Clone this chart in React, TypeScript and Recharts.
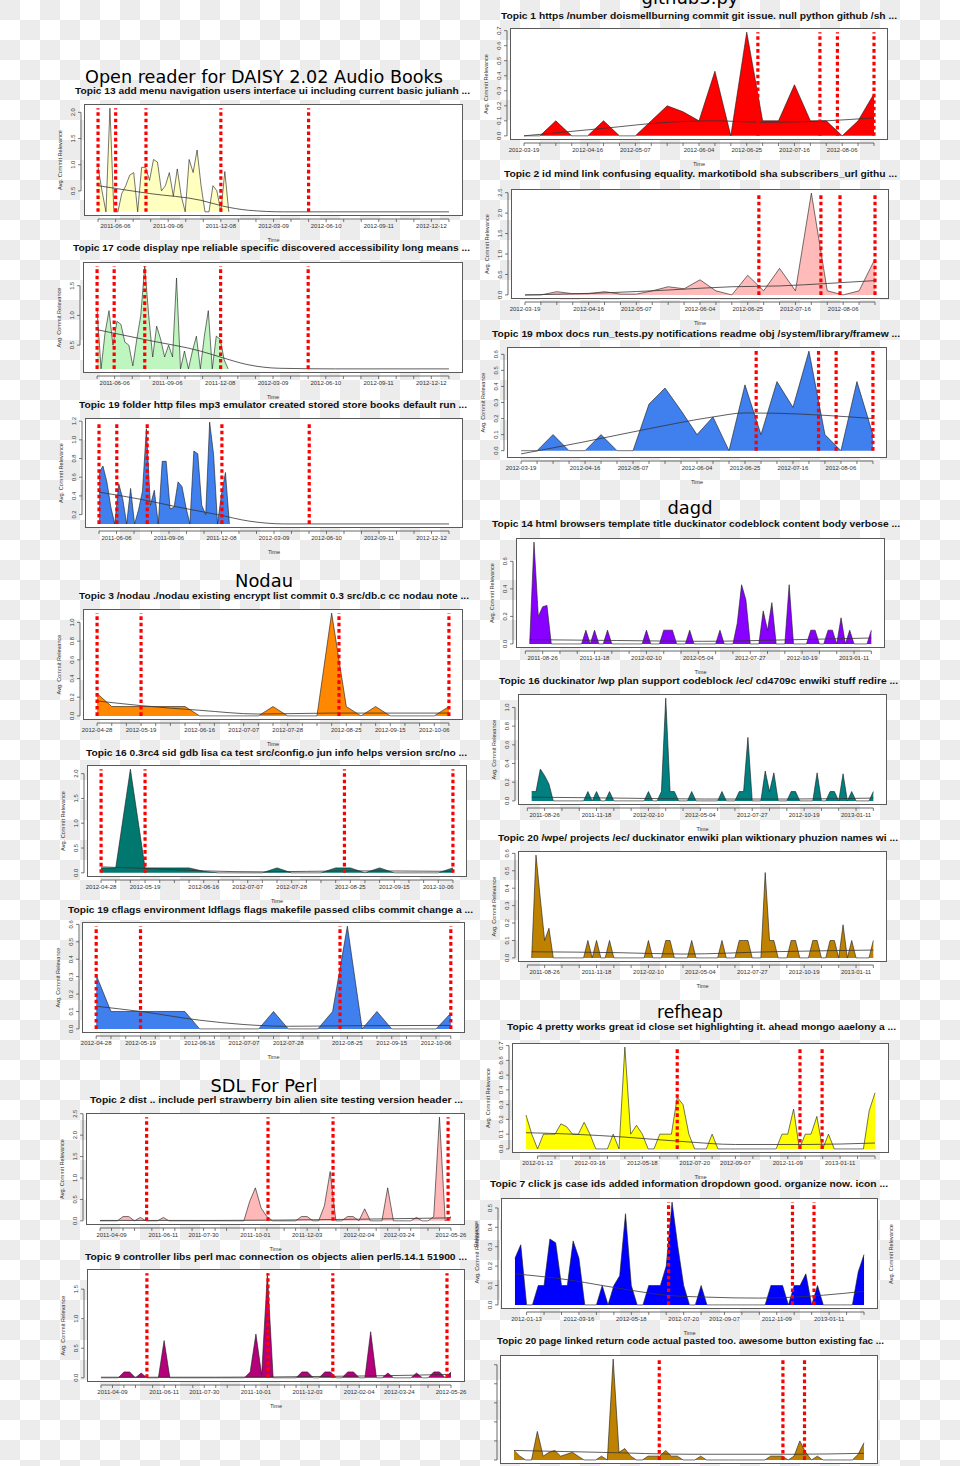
import React from 'react';
import { ComposedChart, Area, Line, XAxis, YAxis, ReferenceLine } from 'recharts';

// x positions are week indexes counted from the first data point of each project

// ---------- axis ticks ----------
const daisyTicks = [0, 4.43, 8.86, 13.29, 17.71, 22.14, 26.57, 31, 35.43, 39.86, 44.29, 48.71, 53.14, 57.57, 62, 66.43, 70.86, 75.29, 79.71, 84.14, 88.57];
const daisyLabels = ['', '2011-06-06', '', '', '2011-09-06', '', '', '2011-12-08', '', '', '2012-03-09', '', '', '2012-06-10', '', '', '2012-09-11', '', '', '2012-12-12', ''];

const nodauTicks = [0, 1, 2, 3, 4, 5, 6, 7, 8, 9, 10, 11, 12, 13, 14, 15, 16, 17, 18, 19, 20, 21, 22, 23, 24];
const nodauLabels = ['2012-04-28', '', '', '2012-05-19', '', '', '', '2012-06-16', '', '', '2012-07-07', '', '', '2012-07-28', '', '', '', '2012-08-25', '', '', '2012-09-15', '', '', '2012-10-06', ''];

const sdlTicks = [0, 2, 4, 6, 9, 11, 13, 16, 18, 20, 22, 25, 27, 29, 32, 34, 36, 38, 41, 43, 45, 48, 50, 52, 54, 57, 59, 61];
const sdlLabels = ['', '2011-04-09', '', '', '', '2011-06-11', '', '', '2011-07-30', '', '', '', '2011-10-01', '', '', '', '2011-12-03', '', '', '', '2012-02-04', '', '', '2012-03-24', '', '', '', '2012-05-26'];

const githubTicks = [0, 1, 2, 3, 4, 5, 6, 7, 8, 9, 10, 11, 12, 13, 14, 15, 16, 17, 18, 19, 20, 21, 22];
const githubLabels = ['2012-03-19', '', '', '', '2012-04-16', '', '', '2012-05-07', '', '', '', '2012-06-04', '', '', '2012-06-25', '', '', '2012-07-16', '', '', '2012-08-06', '', ''];

const dagdTicks = [-1, 3, 7, 11, 15, 19, 23, 27, 31, 35, 39, 43, 47, 51, 55, 59, 63, 67, 71, 75, 79];
const dagdLabels = ['', '2011-08-26', '', '', '2011-11-18', '', '', '2012-02-10', '', '', '2012-05-04', '', '', '2012-07-27', '', '', '2012-10-19', '', '', '2013-01-11', ''];

const refheapTicks = [2, 5, 8, 11, 14, 17, 20, 23, 26, 29, 32, 36, 39, 42, 45, 48, 51, 54, 57, 60];
const refheapLabels = ['2012-01-13', '', '', '2012-03-16', '', '', '2012-05-18', '', '', '2012-07-20', '', '2012-09-07', '', '', '2012-11-09', '', '', '2013-01-11', '', ''];

// ---------- Open reader for DAISY 2.02 Audio Books ----------
const daisyT13 = [0.95, 0.5, 0.1, 2.08, 0.1, 0.1, 0.45, 0.6, 0.8, 0.85, 0.1, 0.95, 0.95, 0.7, 1.1, 1.05, 0.5, 0.6, 0.85, 0.4, 0.92, 0.4, 0.1, 1.1, 0.85, 1.28, 0.6, 0.1, 0.1, 0.6, 0.5, 0.1, 0.87, 0.1];
const daisyT13TrendX = [0, 13, 26, 31.5, 38, 47, 60, 88.57];
const daisyT13TrendY = [0.6, 0.45, 0.32, 0.21, 0.13, 0.1, 0.1, 0.1];
const daisyT13Events = [0, 4.45, 12.1, 31, 53.14];

const daisyT17 = [1.1, 0.1, 0.7, 1.08, 0.5, 0.9, 0.85, 0.55, 0.5, 0.15, 0.6, 1.0, 1.83, 1.0, 0.3, 0.82, 0.6, 0.3, 0.5, 0.3, 1.63, 0.1, 0.4, 0.1, 0.4, 0.65, 0.1, 0.65, 1.08, 0.1, 0.65, 0.6, 0.25, 0.1];
const daisyT17TrendX = [0, 13, 26, 31, 38, 46, 60, 88.57];
const daisyT17TrendY = [0.76, 0.58, 0.4, 0.3, 0.17, 0.11, 0.1, 0.1];
const daisyT17Events = [0, 4.3, 12, 31.1, 53.14];

const daisyT19 = [0.65, 0.72, 0.55, 0.28, 0.1, 0.53, 0.37, 0.1, 0.48, 0.1, 0.25, 0.45, 1.12, 0.3, 0.46, 0.1, 0.77, 0.77, 0.26, 0.28, 0.55, 0.5, 0.28, 0.1, 0.88, 0.85, 0.3, 0.2, 1.19, 0.84, 0.1, 0.42, 0.65, 0.1];
const daisyT19TrendX = [0, 11, 20, 30, 38, 47, 60, 88.57];
const daisyT19TrendY = [0.44, 0.36, 0.28, 0.2, 0.13, 0.1, 0.1, 0.1];
const daisyT19Events = [0, 4.5, 12.2, 31.1, 53.2];

// ---------- Nodau ----------
const nodauT3 = [0.24, 0.1, 0.1, 0.1, 0.1, 0.1, 0.1, 0, 0, 0, 0, 0, 0.1, 0, 0, 0, 1.1, 0.1, 0, 0.1, 0, 0, 0, 0, 0.1];
const nodauT3TrendX = [0, 3, 7, 11, 16, 24];
const nodauT3TrendY = [0.16, 0.11, 0.06, 0.02, 0.03, 0.03];
const nodauT3Events = [0, 3, 16.5, 24];

const nodauT16 = [0.1, 0.1, 2.09, 0.1, 0.1, 0.1, 0.1, 0.03, 0, 0, 0, 0, 0.1, 0, 0, 0, 0.1, 0.1, 0, 0.1, 0, 0, 0, 0, 0.1];
const nodauT16TrendX = [0, 3, 7, 11, 17, 24];
const nodauT16TrendY = [0.12, 0.09, 0.04, 0.02, 0.04, 0.03];
const nodauT16Events = [0, 3, 16.6, 24];

const nodauT19 = [0.31, 0.1, 0.1, 0.1, 0.1, 0.1, 0.1, 0, 0, 0, 0, 0, 0.1, 0, 0, 0, 0.1, 0.59, 0, 0.1, 0, 0, 0, 0, 0.09];
const nodauT19TrendX = [0, 3, 7, 10, 13, 17, 24];
const nodauT19TrendY = [0.13, 0.1, 0.05, 0.025, 0.015, 0.018, 0.02];
const nodauT19Events = [0, 3, 16.5, 24];

// ---------- SDL For Perl ----------
const sdlT2 = [0, 0, 0, 0, 0.1, 0.1, 0, 0.08, 0, 0, 0, 0.08, 0, 0, 0, 0, 0, 0, 0, 0, 0, 0, 0, 0, 0, 0, 0.45, 0.77, 0.3, 0.1, 0, 0, 0, 0, 0, 0.1, 0.1, 0, 0, 0.35, 1.15, 0, 0, 0.1, 0.1, 0, 0.28, 0, 0, 0, 0.77, 0, 0, 0, 0, 0.08, 0, 0, 0.1, 2.42, 0, 0.1];
const sdlT2TrendX = [0, 20, 40, 61];
const sdlT2TrendY = [0.01, 0.01, 0.03, 0.07];
const sdlT2Events = [8.1, 29.2, 40.5, 60.5];

const sdlT9 = [0, 0, 0, 0, 0.1, 0.1, 0, 0.08, 0, 0, 0, 0.63, 0, 0, 0, 0, 0, 0, 0, 0, 0, 0, 0, 0, 0, 0, 0.1, 0.74, 0.05, 1.77, 0, 0, 0, 0, 0, 0.1, 0.1, 0, 0, 0.1, 0.1, 0, 0, 0.1, 0.1, 0, 0, 0.78, 0, 0, 0.08, 0, 0, 0, 0, 0.08, 0, 0, 0.1, 0.1, 0, 0.1];
const sdlT9TrendX = [0, 20, 40, 55, 61];
const sdlT9TrendY = [0.01, 0.01, 0.025, 0.045, 0.06];
const sdlT9Events = [8, 29.1, 40.4, 60.3];

// ---------- github3.py ----------
const githubT1 = [0, 0, 0.1, 0, 0, 0.1, 0, 0, 0.1, 0.2, 0.16, 0.1, 0.43, 0, 0.69, 0.1, 0.1, 0.34, 0.1, 0.1, 0, 0.1, 0.28];
const githubT1TrendX = [0, 5, 9, 12, 15, 19, 22];
const githubT1TrendY = [0, 0.05, 0.09, 0.1, 0.09, 0.1, 0.12];
const githubT1Events = [14.7, 18.6, 19.7, 22];

const githubT2 = [0, 0, 0.08, 0.03, 0.03, 0.08, 0.02, 0.02, 0.1, 0.2, 0.15, 0.37, 0.1, 0, 0.48, 0.1, 0.65, 0.1, 2.49, 0.1, 0, 0.1, 0.88];
const githubT2TrendX = [0, 5, 9, 13, 16, 19, 22];
const githubT2TrendY = [0, 0.05, 0.12, 0.2, 0.22, 0.28, 0.35];
const githubT2Events = [14.7, 18.6, 19.8, 22];

const githubT19 = [0, 0, 0.1, 0, 0, 0.1, 0, 0, 0.29, 0.39, 0.25, 0.1, 0.21, 0, 0.41, 0.1, 0.43, 0.27, 0.62, 0.1, 0, 0.43, 0.1];
const githubT19TrendX = [0, 4, 8, 12, 14, 16, 19, 22];
const githubT19TrendY = [-0.02, 0.056, 0.137, 0.21, 0.235, 0.233, 0.22, 0.2];
const githubT19Events = [14.7, 18.6, 19.7, 22];

// ---------- dagd ----------
const dagdT14 = [0, 0.74, 0.2, 0.27, 0.28, 0, 0, 0, 0, 0, 0, 0, 0, 0.1, 0, 0.1, 0, 0, 0.1, 0, 0, 0, 0, 0, 0, 0, 0, 0.1, 0, 0, 0, 0.1, 0.1, 0.1, 0, 0, 0, 0.1, 0, 0, 0, 0, 0, 0, 0.1, 0, 0, 0, 0.15, 0.43, 0.32, 0, 0, 0, 0.24, 0.1, 0.3, 0, 0, 0, 0.43, 0, 0, 0, 0, 0.1, 0.1, 0, 0, 0.1, 0.1, 0, 0.19, 0, 0.1, 0, 0, 0, 0, 0.1];
const dagdT14TrendX = [0, 20, 40, 60, 79];
const dagdT14TrendY = [0.031, 0.025, 0.019, 0.03, 0.043];

const dagdT16 = [0.1, 0.1, 0.34, 0.27, 0.18, 0, 0, 0, 0, 0, 0, 0, 0, 0.1, 0, 0.1, 0, 0, 0.1, 0, 0, 0, 0, 0, 0, 0, 0, 0.1, 0, 0, 0.1, 1.1, 0.1, 0.1, 0, 0, 0, 0.1, 0, 0, 0, 0, 0, 0, 0.1, 0, 0, 0, 0.1, 0.1, 0.68, 0, 0, 0, 0.32, 0.1, 0.3, 0, 0, 0, 0.1, 0.1, 0, 0, 0, 0, 0.3, 0, 0, 0.1, 0.1, 0, 0.29, 0, 0.1, 0, 0, 0, 0, 0.1];
const dagdT16TrendX = [0, 20, 40, 60, 79];
const dagdT16TrendY = [0.04, 0.03, 0.02, 0.02, 0.03];

const dagdT20 = [0, 0.59, 0.34, 0.1, 0.17, 0, 0, 0, 0, 0, 0, 0, 0, 0.1, 0, 0.1, 0, 0, 0.1, 0, 0, 0, 0, 0, 0, 0, 0, 0.1, 0, 0, 0, 0.1, 0.1, 0, 0, 0, 0, 0.1, 0, 0, 0, 0, 0, 0, 0.1, 0, 0, 0, 0.1, 0.1, 0.1, 0, 0, 0, 0.49, 0.1, 0.1, 0, 0, 0, 0.1, 0.1, 0, 0, 0, 0.1, 0.1, 0, 0, 0.1, 0.1, 0, 0.19, 0, 0.1, 0, 0, 0, 0, 0.1];
const dagdT20TrendX = [0, 20, 35, 55, 79];
const dagdT20TrendY = [0.035, 0.03, 0.022, 0.035, 0.045];

// ---------- refheap ----------
const refheapT4 = [0.23, 0.1, 0, 0.1, 0.1, 0.1, 0.17, 0.15, 0.1, 0.1, 0.18, 0.1, 0, 0, 0, 0.1, 0, 0.69, 0.1, 0.16, 0.1, 0, 0, 0.1, 0.1, 0.1, 0.35, 0.3, 0.1, 0, 0, 0, 0.1, 0, 0, 0, 0, 0, 0, 0, 0, 0, 0, 0, 0.1, 0.1, 0.27, 0, 0.1, 0.1, 0.22, 0, 0.1, 0, 0, 0, 0, 0, 0, 0.26, 0.38];
const refheapT4TrendX = [0, 8, 17, 27, 36, 48, 60];
const refheapT4TrendY = [0.11, 0.1, 0.08, 0.05, 0.03, 0.03, 0.04];
const refheapT4Events = [26, 47.1, 50.9];

const refheapT7 = [0.24, 0.31, 0, 0, 0.1, 0.1, 0.34, 0.32, 0.1, 0.1, 0.33, 0.24, 0, 0, 0, 0.1, 0, 0.1, 0.15, 0.47, 0.1, 0, 0, 0.1, 0.1, 0.1, 0.2, 0.53, 0.3, 0.1, 0, 0, 0.1, 0, 0, 0, 0, 0, 0, 0, 0, 0, 0, 0, 0.1, 0.1, 0.1, 0, 0.1, 0.1, 0.16, 0, 0.1, 0, 0, 0, 0, 0, 0, 0.17, 0.26];
const refheapT7TrendX = [0, 9, 15, 20, 26, 33, 42, 48, 53, 60];
const refheapT7TrendY = [0.16, 0.13, 0.1, 0.075, 0.05, 0.04, 0.035, 0.04, 0.05, 0.07];
const refheapT7Events = [26.4, 47.7, 51.4];

const refheapT20 = [0.05, 0.02, 0, 0, 0.15, 0.02, 0.04, 0.05, 0.02, 0.03, 0.04, 0.02, 0, 0, 0, 0.02, 0, 0.53, 0.04, 0.06, 0.02, 0, 0, 0.02, 0.02, 0.02, 0.05, 0.02, 0.02, 0, 0, 0, 0.02, 0, 0, 0, 0, 0, 0, 0, 0, 0, 0, 0, 0.02, 0.02, 0.02, 0, 0.02, 0.1, 0.04, 0, 0.02, 0, 0, 0, 0, 0, 0, 0.03, 0.09];
const refheapT20TrendX = [0, 15, 30, 48, 60];
const refheapT20TrendY = [0.05, 0.04, 0.03, 0.03, 0.035];
const refheapT20Events = [24.9, 46.1, 49.8];

// ---------- y ticks ----------
const yT13 = [0.5, 1, 1.5, 2];
const yT17 = [0.5, 1, 1.5];
const yT19 = [0.2, 0.4, 0.6, 0.8, 1, 1.2];
const yTenths6 = [0, 0.1, 0.2, 0.3, 0.4, 0.5, 0.6];
const yTenths7 = [0, 0.1, 0.2, 0.3, 0.4, 0.5, 0.6, 0.7];
const yTenths5 = [0, 0.1, 0.2, 0.3, 0.4, 0.5];
const yFifths5 = [0, 0.2, 0.4, 0.6, 0.8, 1];
const yFifths3 = [0, 0.2, 0.4, 0.6];
const yHalves4 = [0, 0.5, 1, 1.5];
const yHalves5 = [0, 0.5, 1, 1.5, 2];
const yHalves6 = [0, 0.5, 1, 1.5, 2, 2.5];

const GAP = 3;
const YW = 24;
const XH = 30;
const MT = 4;
const MR = 4;
const PAGE_H = 1466;
const FONT = '"Liberation Sans", Arial, sans-serif';

type Box = { x: number; y: number; w: number; h: number };
type PanelDef = {
  title: string; color: string; values: number[]; trendX: number[]; trendY: number[]; events: number[];
  xTicks: number[]; xLabels: string[]; yTicks: number[]; cropped?: boolean;
  box: Box; titleY: number; titleX: [number, number];
};

const panels: PanelDef[] = [
  { title: 'Topic 13 add menu navigation users interface ui including current basic julianh ...', color: '#ffffc0', values: daisyT13, trendX: daisyT13TrendX, trendY: daisyT13TrendY, events: daisyT13Events, xTicks: daisyTicks, xLabels: daisyLabels, yTicks: yT13, box: { x: 84, y: 104, w: 379, h: 112 }, titleY: 90, titleX: [75, 470] },
  { title: 'Topic 17 code display npe reliable specific discovered accessibility long means ...', color: '#bff5bf', values: daisyT17, trendX: daisyT17TrendX, trendY: daisyT17TrendY, events: daisyT17Events, xTicks: daisyTicks, xLabels: daisyLabels, yTicks: yT17, box: { x: 83, y: 262, w: 380, h: 111 }, titleY: 247, titleX: [73, 470] },
  { title: 'Topic 19 folder http files mp3 emulator created stored store books default run ...', color: '#3f7fee', values: daisyT19, trendX: daisyT19TrendX, trendY: daisyT19TrendY, events: daisyT19Events, xTicks: daisyTicks, xLabels: daisyLabels, yTicks: yT19, box: { x: 85, y: 418, w: 378, h: 110 }, titleY: 404, titleX: [79, 467] },
  { title: 'Topic 3 /nodau ./nodau existing encrypt list commit 0.3 src/db.c cc nodau note ...', color: '#ff8800', values: nodauT3, trendX: nodauT3TrendX, trendY: nodauT3TrendY, events: nodauT3Events, xTicks: nodauTicks, xLabels: nodauLabels, yTicks: yFifths5, box: { x: 83, y: 609, w: 380, h: 111 }, titleY: 595, titleX: [79, 469] },
  { title: 'Topic 16 0.3rc4 sid gdb lisa ca test src/config.o jun info helps version src/no ...', color: '#00786f', values: nodauT16, trendX: nodauT16TrendX, trendY: nodauT16TrendY, events: nodauT16Events, xTicks: nodauTicks, xLabels: nodauLabels, yTicks: yHalves5, box: { x: 87, y: 765, w: 380, h: 112 }, titleY: 752, titleX: [86, 467] },
  { title: 'Topic 19 cflags environment ldflags flags makefile passed clibs commit change a ...', color: '#3f7fee', values: nodauT19, trendX: nodauT19TrendX, trendY: nodauT19TrendY, events: nodauT19Events, xTicks: nodauTicks, xLabels: nodauLabels, yTicks: yTenths6, box: { x: 82, y: 922, w: 383, h: 111 }, titleY: 909, titleX: [68, 473] },
  { title: 'Topic 2 dist .. include perl strawberry bin alien site testing version header ...', color: '#ffb8b8', values: sdlT2, trendX: sdlT2TrendX, trendY: sdlT2TrendY, events: sdlT2Events, xTicks: sdlTicks, xLabels: sdlLabels, yTicks: yHalves6, box: { x: 86, y: 1113, w: 379, h: 112 }, titleY: 1099, titleX: [90, 463] },
  { title: 'Topic 9 controller libs perl mac connection os objects alien perl5.14.1 51900 ...', color: '#b4007a', values: sdlT9, trendX: sdlT9TrendX, trendY: sdlT9TrendY, events: sdlT9Events, xTicks: sdlTicks, xLabels: sdlLabels, yTicks: yHalves4, box: { x: 87, y: 1269, w: 378, h: 113 }, titleY: 1256, titleX: [85, 467] },
  { title: 'Topic 1 https /number doismellburning commit git issue. null python github /sh ...', color: '#ff0000', values: githubT1, trendX: githubT1TrendX, trendY: githubT1TrendY, events: githubT1Events, xTicks: githubTicks, xLabels: githubLabels, yTicks: yTenths7, box: { x: 510, y: 28, w: 378, h: 112 }, titleY: 15, titleX: [501, 897] },
  { title: 'Topic 2 id mind link confusing equality. markotibold sha subscribers_url githu ...', color: '#ffbaba', values: githubT2, trendX: githubT2TrendX, trendY: githubT2TrendY, events: githubT2Events, xTicks: githubTicks, xLabels: githubLabels, yTicks: yHalves6, box: { x: 511, y: 189, w: 378, h: 110 }, titleY: 173, titleX: [504, 897] },
  { title: 'Topic 19 mbox docs run_tests.py notifications readme obj /system/library/framew ...', color: '#3f7fee', values: githubT19, trendX: githubT19TrendX, trendY: githubT19TrendY, events: githubT19Events, xTicks: githubTicks, xLabels: githubLabels, yTicks: yTenths6, box: { x: 507, y: 347, w: 380, h: 111 }, titleY: 333, titleX: [492, 900] },
  { title: 'Topic 14 html browsers template title duckinator codeblock content body verbose ...', color: '#8800ff', values: dagdT14, trendX: dagdT14TrendX, trendY: dagdT14TrendY, events: [], xTicks: dagdTicks, xLabels: dagdLabels, yTicks: yFifths3, box: { x: 516, y: 538, w: 369, h: 110 }, titleY: 523, titleX: [492, 900] },
  { title: 'Topic 16 duckinator /wp plan support codeblock /ec/ cd4709c enwiki stuff redire ...', color: '#008080', values: dagdT16, trendX: dagdT16TrendX, trendY: dagdT16TrendY, events: [], xTicks: dagdTicks, xLabels: dagdLabels, yTicks: yFifths5, box: { x: 518, y: 694, w: 369, h: 111 }, titleY: 680, titleX: [499, 898] },
  { title: 'Topic 20 /wpe/ projects /ec/ duckinator enwiki plan wiktionary phuzion names wi ...', color: '#bf8200', values: dagdT20, trendX: dagdT20TrendX, trendY: dagdT20TrendY, events: [], xTicks: dagdTicks, xLabels: dagdLabels, yTicks: yTenths6, box: { x: 518, y: 851, w: 369, h: 111 }, titleY: 837, titleX: [498, 898] },
  { title: 'Topic 4 pretty works great id close set highlighting it. ahead mongo aaelony a ...', color: '#ffff00', values: refheapT4, trendX: refheapT4TrendX, trendY: refheapT4TrendY, events: refheapT4Events, xTicks: refheapTicks, xLabels: refheapLabels, yTicks: yTenths7, box: { x: 512, y: 1043, w: 377, h: 110 }, titleY: 1026, titleX: [507, 896] },
  { title: 'Topic 7 click js case ids added information dropdown good. organize now. icon ...', color: '#0000ff', values: refheapT7, trendX: refheapT7TrendX, trendY: refheapT7TrendY, events: refheapT7Events, xTicks: refheapTicks, xLabels: refheapLabels, yTicks: yTenths5, box: { x: 501, y: 1198, w: 377, h: 111 }, titleY: 1183, titleX: [490, 888] },
  { title: 'Topic 20 page linked return code actual pasted too. awesome button existing fac ...', color: '#bf8200', values: refheapT20, trendX: refheapT20TrendX, trendY: refheapT20TrendY, events: refheapT20Events, xTicks: refheapTicks, xLabels: refheapLabels, yTicks: yTenths5, cropped: true, box: { x: 500, y: 1355, w: 378, h: 109 }, titleY: 1340, titleX: [497, 884] },
];

const mainTitles = [
  { text: 'Open reader for DAISY 2.02 Audio Books', x: 264, y: 83, w: 358 },
  { text: 'Nodau', x: 264, y: 587, w: 58 },
  { text: 'SDL For Perl', x: 264, y: 1092, w: 107 },
  { text: 'github3.py', x: 690, y: 4, w: 97 },
  { text: 'dagd', x: 690, y: 514, w: 45 },
  { text: 'refheap', x: 690, y: 1018, w: 66 },
];

function Panel({ p }: { p: PanelDef }) {
  const { box } = p;
  const rows = p.values.map((y, x) => ({ x, y }));
  const trend = p.trendX.map((x, i) => ({ x, y: p.trendY[i] }));
  const all = [...p.values, ...p.trendY];
  const lo = Math.min(...all);
  const hi = Math.max(...all);
  const vLo = Math.min(...p.values);
  const vHi = Math.max(...p.values);
  const x1 = Math.max(p.values.length - 1, ...p.trendX);
  const a = -0.04 * x1;
  const b = x1 * 1.04;
  const c = lo - 0.04 * (hi - lo);
  const d = hi + 0.04 * (hi - lo);
  const xLeft = a - (GAP * (b - a)) / box.w;
  const yBottom = c - (GAP * (d - c)) / box.h;
  const showLabels = !p.cropped;

  const yTick = (t: any) => {
    const tx = t.x - 1;
    return (
      <text x={tx} y={t.y} transform={`rotate(-90 ${tx} ${t.y})`} textAnchor="middle" fontSize={5.8} fill="#333" fontFamily={FONT}>
        {showLabels ? Number(t.payload.value).toFixed(1) : ''}
      </text>
    );
  };

  return (
    <>
      <div style={{ position: 'absolute', left: box.x, top: box.y, width: box.w, height: box.h, background: '#fff', border: '1px solid #5a5a5a', boxSizing: 'border-box' }} />
      <div style={{ position: 'absolute', left: box.x - YW - GAP, top: box.y - MT }}>
        <ComposedChart width={box.w + YW + GAP + MR} height={box.h + GAP + MT + XH} data={rows} margin={{ top: MT, right: MR, left: 0, bottom: 0 }}>
          <XAxis type="number" dataKey="x" domain={[xLeft, b]} allowDataOverflow ticks={p.xTicks} interval={0} height={XH}
            tickFormatter={(v: number) => (showLabels ? p.xLabels[p.xTicks.indexOf(v)] ?? '' : '')} tickSize={3} axisLine={false}
            tickLine={{ stroke: '#444', strokeWidth: 0.7 }} tick={{ fontSize: 6, fill: '#333', fontFamily: FONT }} />
          <YAxis type="number" domain={[yBottom, d]} allowDataOverflow ticks={p.yTicks} interval={0} width={YW}
            tick={yTick} tickSize={3} axisLine={false} tickLine={{ stroke: '#444', strokeWidth: 0.7 }} />
          <Area data={rows} dataKey="y" type="linear" baseValue={vLo} fill={p.color} fillOpacity={1} stroke="#1a1a1a" strokeWidth={0.6} dot={false} activeDot={false} isAnimationActive={false} />
          <Line data={trend} dataKey="y" type="monotone" stroke="#333" strokeWidth={0.8} dot={false} activeDot={false} isAnimationActive={false} />
          {p.events.map((e) => (
            <ReferenceLine key={e} segment={[{ x: e, y: vLo }, { x: e, y: vHi }]} stroke="#ff0000" strokeWidth={3.2} strokeDasharray="3.6 2.8" ifOverflow="visible" />
          ))}
          <ReferenceLine segment={[{ x: xLeft, y: p.yTicks[0] }, { x: xLeft, y: p.yTicks[p.yTicks.length - 1] }]} stroke="#444" strokeWidth={0.8} ifOverflow="visible" />
          <ReferenceLine segment={[{ x: p.xTicks[0], y: yBottom }, { x: p.xTicks[p.xTicks.length - 1], y: yBottom }]} stroke="#444" strokeWidth={0.8} ifOverflow="visible" />
        </ComposedChart>
      </div>
    </>
  );
}

export default function App() {
  return (
    <div style={{ position: 'absolute', left: 0, top: 0, width: 960, height: PAGE_H, overflow: 'hidden', background: 'repeating-conic-gradient(#fff 0% 25%, #ececec 0% 50%) 0 0 / 40px 40px' }}>
      {panels.map((p, i) => <Panel key={i} p={p} />)}
      <svg width={960} height={PAGE_H} style={{ position: 'absolute', left: 0, top: 0, pointerEvents: 'none' }}>
        {mainTitles.map((t) => (
          <text key={t.text} x={t.x} y={t.y} textAnchor="middle" fontSize={17} fontFamily='"DejaVu Sans", sans-serif' fill="#000" textLength={t.w} lengthAdjust="spacingAndGlyphs">{t.text}</text>
        ))}
        {panels.map((p, i) => (
          <g key={i}>
            <text x={(p.titleX[0] + p.titleX[1]) / 2} y={p.titleY + 3.5} textAnchor="middle" fontSize={9.8} fontWeight="bold" fontFamily={FONT} fill="#111" textLength={p.titleX[1] - p.titleX[0]} lengthAdjust="spacingAndGlyphs">{p.title}</text>
            {!p.cropped && (
              <>
                <text x={p.box.x + p.box.w / 2} y={p.box.y + p.box.h + 26} textAnchor="middle" fontSize={5.6} fontFamily={FONT} fill="#333">Time</text>
                <text x={p.box.x - 22} y={p.box.y + p.box.h / 2} transform={`rotate(-90 ${p.box.x - 22} ${p.box.y + p.box.h / 2})`} textAnchor="middle" fontSize={5.6} fontFamily={FONT} fill="#333">Avg. Commit Relevance</text>
              </>
            )}
          </g>
        ))}
        <text x={893} y={1254} transform="rotate(-90 893 1254)" textAnchor="middle" fontSize={5.6} fontFamily={FONT} fill="#333">Avg. Commit Relevance</text>
        <text x={478} y={1234} transform="rotate(-90 478 1234)" textAnchor="middle" fontSize={5.6} fontFamily={FONT} fill="#333">Relevance</text>
      </svg>
    </div>
  );
}
